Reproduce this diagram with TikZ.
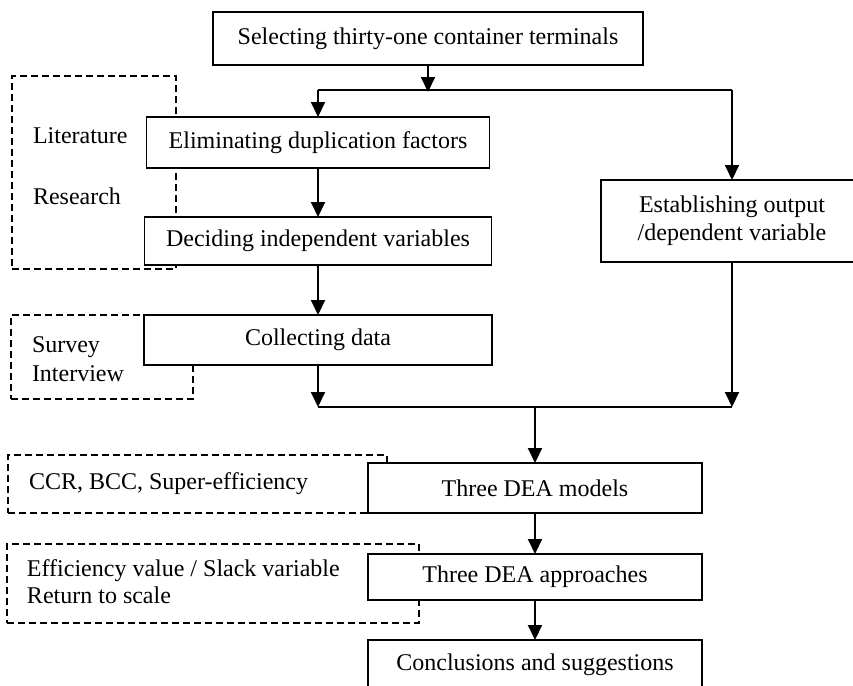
\documentclass[tikz,border=0pt]{standalone}
\usepackage{fontspec}
\setmainfont{Liberation Serif}
\usetikzlibrary{arrows.meta}

\begin{document}
\begin{tikzpicture}[x=1pt, y=-1pt,
    every node/.style = {font=\fontsize{24}{28}\selectfont, inner sep=0pt, outer sep=0pt},
    stage/.style = {draw, line width=1.6pt, fill=white, align=center},
    note/.style = {draw, line width=1.4pt, dash pattern=on 7pt off 4pt},
    flow/.style = {line width=2pt},
    arrow/.style = {flow, -{Triangle[length=15pt, width=14pt]}}]
    \useasboundingbox (0,0) rectangle (853,685);
    % dashed side notes
    \node (litbox) [note, minimum width=164, minimum height=193] at (94,172.5) {};
    \node (surbox) [note, minimum width=182, minimum height=84] at (102,357) {};
    \node (ccrbox) [note, minimum width=379, minimum height=58] at (197.5,484) {};
    \node (effbox) [note, minimum width=412, minimum height=79] at (213,583.5) {};
    \node (lit1) [anchor=base west] at (33,143) {Literature};
    \node (lit2) [anchor=base west] at (33,204) {Research};
    \node (sur1) [anchor=base west] at (32,352) {Survey};
    \node (sur2) [anchor=base west] at (32,381) {Interview};
    \node (ccr) [anchor=base west] at (29,489) {CCR, BCC, Super-efficiency};
    \node (eff1) [anchor=base west] at (27,576) {Efficiency value / Slack variable};
    \node (eff2) [anchor=base west] at (27,603) {Return to scale};
    % main stages
    \node (sel) [stage, minimum width=430, minimum height=53] at (428,38.5) {Selecting thirty-one container terminals};
    \node (elim) [stage, minimum width=343, minimum height=51] at (318,142.5) {Eliminating duplication factors};
    \node (decide) [stage, minimum width=347, minimum height=48] at (318,241) {Deciding independent variables};
    \node (collect) [stage, minimum width=348, minimum height=50] at (318,340) {Collecting data};
    \node (estab) [stage, minimum width=262, minimum height=82] at (732,221) {Establishing output\\/dependent variable};
    \node (models) [stage, minimum width=334, minimum height=50] at (535,488) {Three DEA models};
    \node (appr) [stage, minimum width=334, minimum height=46] at (535,577) {Three DEA approaches};
    \node (concl) [stage, minimum width=334, minimum height=50] at (535,665) {Conclusions and suggestions};
    % junctions
    \coordinate (split) at (428,92);
    \coordinate (jl) at (318,90);
    \coordinate (jr) at (732,90);
    \coordinate (ml) at (318,407);
    \coordinate (mm) at (535,407);
    \coordinate (mr) at (732,407);

    \draw [flow] (jl) -- (jr);
    \draw [flow] (ml) -- (mr);
    \path [arrow]
        (sel) edge (split)
        (jl) edge (elim)
        (jr) edge (estab)
        (elim) edge (decide)
        (decide) edge (collect)
        (collect) edge (ml)
        (estab) edge (mr)
        (mm) edge (models)
        (models) edge (appr)
        (appr) edge (concl);
\end{tikzpicture}
\end{document}
